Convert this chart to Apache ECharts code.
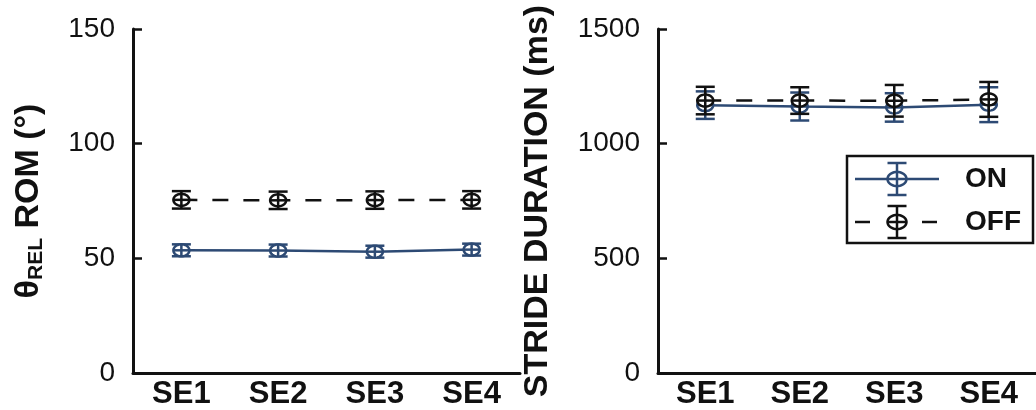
<!DOCTYPE html>
<html>
<head>
<meta charset="utf-8">
<script src="https://cdn.jsdelivr.net/npm/echarts@6/dist/echarts.min.js"></script>
<style>
  html, body { margin: 0; padding: 0; background: #fff; }
  #chart { width: 1036px; height: 410px; }
</style>
</head>
<body>
<div id="chart"></div>
<script>
// Sessions on the x axis
const categories = ['SE1', 'SE2', 'SE3', 'SE4'];

// Relative range of motion (degrees): mean and error half-width
const romOn = [53.5, 53.4, 52.9, 53.8];
const romOnErr = [2.6, 2.6, 2.6, 2.6];
const romOff = [75.5, 75.3, 75.4, 75.5];
const romOffErr = [3.8, 3.8, 3.8, 3.8];

// Stride duration (ms): mean and error half-width
const strideOn = [1168, 1162, 1158, 1170];
const strideOnErr = [60, 61, 62, 76];
const strideOff = [1188, 1188, 1187, 1193];
const strideOffErr = [60, 58, 69, 76];

// Axis tick values
const romTicks = { min: 0, max: 150, interval: 50 };
const strideTicks = { min: 0, max: 1500, interval: 500 };

const BLUE = '#2d4a74';
const BLACK = '#111111';
const FONT = '"Liberation Sans", Arial, Helvetica, sans-serif';
const LW = 2.5;

function ellipsePoints(cx, cy, rx, ry) {
  const pts = [];
  for (let i = 0; i < 40; i++) {
    const a = (i / 40) * Math.PI * 2;
    pts.push([cx + rx * Math.cos(a), cy + ry * Math.sin(a)]);
  }
  return pts;
}

// Error bar with caps plus an open ellipse marker crossed by short bars
function errorMarker(color, capHalf, rx, ry) {
  return function (params, api) {
    const i = api.value(0), m = api.value(1), e = api.value(2);
    const c = api.coord([i, m]);
    const hi = api.coord([i, m + e]);
    const lo = api.coord([i, m - e]);
    const st = { stroke: color, lineWidth: LW, fill: null };
    return {
      type: 'group',
      children: [
        { type: 'line', shape: { x1: c[0], y1: hi[1], x2: c[0], y2: lo[1] }, style: st },
        { type: 'line', shape: { x1: c[0] - capHalf, y1: hi[1], x2: c[0] + capHalf, y2: hi[1] }, style: st },
        { type: 'line', shape: { x1: c[0] - capHalf, y1: lo[1], x2: c[0] + capHalf, y2: lo[1] }, style: st },
        { type: 'polygon', shape: { points: ellipsePoints(c[0], c[1], rx, ry) }, style: { stroke: color, lineWidth: LW, fill: '#fff' } },
        { type: 'line', shape: { x1: c[0] - rx, y1: c[1], x2: c[0] + rx, y2: c[1] }, style: st },
        { type: 'line', shape: { x1: c[0], y1: c[1] - ry, x2: c[0], y2: c[1] + ry }, style: st }
      ]
    };
  };
}

function triples(means, errs) {
  return means.map((v, i) => [i, v, errs[i]]);
}

function xAxisFor(gridIndex) {
  return {
    type: 'category',
    gridIndex: gridIndex,
    data: categories,
    boundaryGap: true,
    axisLine: { lineStyle: { color: BLACK, width: 3 } },
    axisTick: { inside: true, alignWithLabel: true, length: 5, lineStyle: { color: BLACK, width: 2 } },
    axisLabel: { color: BLACK, fontFamily: FONT, fontWeight: 'bold', fontSize: 31, margin: 6 },
    splitLine: { show: false }
  };
}

function yAxisFor(gridIndex, ticks, name, nameGap, rich) {
  return {
    type: 'value',
    gridIndex: gridIndex,
    min: ticks.min,
    max: ticks.max,
    interval: ticks.interval,
    name: name,
    nameLocation: 'middle',
    nameGap: nameGap,
    nameRotate: 90,
    nameTextStyle: Object.assign({ color: BLACK, fontFamily: FONT, fontWeight: 'bold', fontSize: 34 }, rich ? { rich: rich } : {}),
    axisLine: { show: true, lineStyle: { color: BLACK, width: 3 } },
    axisTick: { show: true, inside: true, length: 9, lineStyle: { color: BLACK, width: 2.5 } },
    axisLabel: { color: BLACK, fontFamily: FONT, fontSize: 28, margin: 18, formatter: v => String(v) },
    splitLine: { show: false }
  };
}

function panelSeries(idx, on, onErr, off, offErr) {
  return [
    {
      type: 'line', xAxisIndex: idx, yAxisIndex: idx, data: on, symbol: 'none',
      lineStyle: { color: BLUE, width: LW }, z: 2, silent: true
    },
    {
      type: 'custom', xAxisIndex: idx, yAxisIndex: idx, data: triples(on, onErr),
      renderItem: errorMarker(BLUE, 9.5, 8, 6), z: 3, silent: true
    },
    {
      type: 'line', xAxisIndex: idx, yAxisIndex: idx, data: off, symbol: 'none',
      lineStyle: { color: BLACK, width: LW, type: [16, 15] }, z: 4, silent: true
    },
    {
      type: 'custom', xAxisIndex: idx, yAxisIndex: idx, data: triples(off, offErr),
      renderItem: errorMarker(BLACK, 9.5, 8, 6), z: 5, silent: true
    }
  ];
}

// Legend drawn as graphic elements: error-bar glyphs next to labels
const legendX = 847, legendY = 156, legendW = 186, legendH = 87;
const legendItems = [
  { label: 'ON', color: BLUE, dashed: false, y: 179 },
  { label: 'OFF', color: BLACK, dashed: true, y: 222 }
];
const legendGraphics = [
  { type: 'rect', shape: { x: legendX, y: legendY, width: legendW, height: legendH }, style: { fill: '#fff', stroke: BLACK, lineWidth: 2.5 } }
];
legendItems.forEach(it => {
  const st = { stroke: it.color, lineWidth: LW, fill: null };
  const mx = 897, y = it.y;
  if (it.dashed) {
    legendGraphics.push({ type: 'line', shape: { x1: 855, y1: y, x2: 870, y2: y }, style: st });
    legendGraphics.push({ type: 'line', shape: { x1: 922, y1: y, x2: 937, y2: y }, style: st });
  } else {
    legendGraphics.push({ type: 'line', shape: { x1: 855, y1: y, x2: 939, y2: y }, style: st });
  }
  legendGraphics.push({ type: 'line', shape: { x1: mx, y1: y - 16, x2: mx, y2: y + 16 }, style: st });
  legendGraphics.push({ type: 'line', shape: { x1: mx - 9.5, y1: y - 16, x2: mx + 9.5, y2: y - 16 }, style: st });
  legendGraphics.push({ type: 'line', shape: { x1: mx - 9.5, y1: y + 16, x2: mx + 9.5, y2: y + 16 }, style: st });
  legendGraphics.push({ type: 'polygon', shape: { points: ellipsePoints(mx, y, 9.5, 7) }, style: { stroke: it.color, lineWidth: LW, fill: '#fff' } });
  legendGraphics.push({ type: 'line', shape: { x1: mx - 9.5, y1: y, x2: mx + 9.5, y2: y }, style: st });
  legendGraphics.push({ type: 'line', shape: { x1: mx, y1: y - 7, x2: mx, y2: y + 7 }, style: st });
  legendGraphics.push({
    type: 'text', x: 965, y: y,
    style: { text: it.label, fill: BLACK, font: 'bold 28px ' + FONT, textVerticalAlign: 'middle', verticalAlign: 'middle' }
  });
});

const chart = echarts.init(document.getElementById('chart'), null, { renderer: 'canvas' });
chart.setOption({
  animation: false,
  backgroundColor: '#fff',
  grid: [
    { left: 133, right: 516, top: 29, bottom: 37 },
    { left: 658, right: -12, top: 29, bottom: 37 }
  ],
  xAxis: [xAxisFor(0), xAxisFor(1)],
  yAxis: [
    yAxisFor(0, romTicks, '{t|θ}{s|REL}{t| ROM (°)}', 86, {
      t: { fontFamily: FONT, fontWeight: 'bold', fontSize: 34, color: BLACK, lineHeight: 37 },
      s: { fontFamily: FONT, fontWeight: 'bold', fontSize: 21, color: BLACK, lineHeight: 24, verticalAlign: 'bottom' }
    }),
    yAxisFor(1, strideTicks, 'STRIDE DURATION (ms)', 103)
  ],
  series: [].concat(
    panelSeries(0, romOn, romOnErr, romOff, romOffErr),
    panelSeries(1, strideOn, strideOnErr, strideOff, strideOffErr)
  ),
  graphic: legendGraphics
});
</script>
</body>
</html>
